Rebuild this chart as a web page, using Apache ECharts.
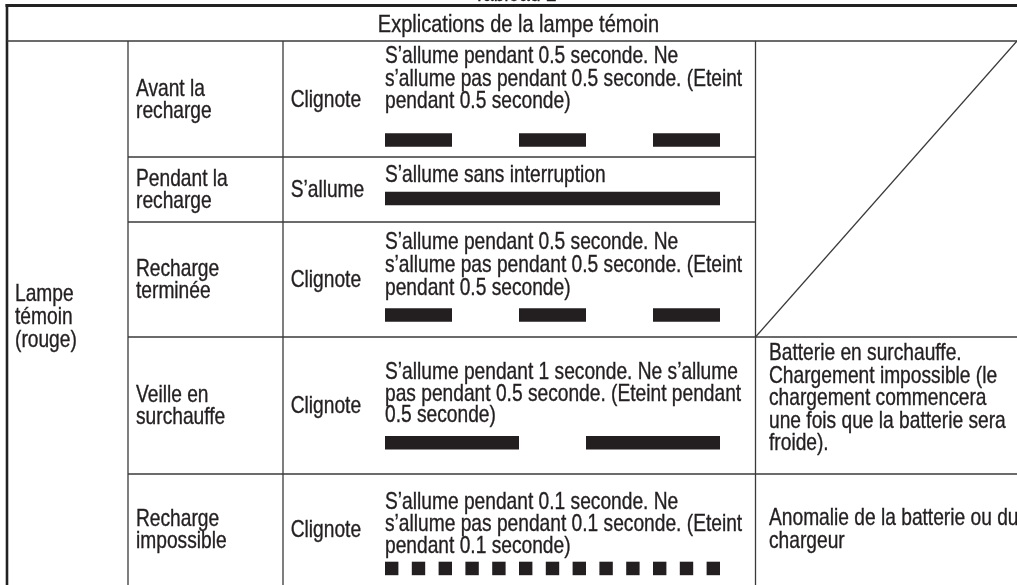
<!DOCTYPE html>
<html><head><meta charset="utf-8">
<script src="https://cdn.jsdelivr.net/npm/echarts@6/dist/echarts.min.js"></script>
<style>html,body{margin:0;padding:0;background:#fff}#chart{width:1017px;height:585px}</style>
</head><body><div id="chart"></div>
<script>
// ---------- DATA ----------
const tableTitle = 'Tableau 2';
const headerText = 'Explications de la lampe témoin';
const lampLabel = ['Lampe', 'témoin', '(rouge)'];
const stateLabels = [['Avant la', 'recharge'], ['Pendant la', 'recharge'], ['Recharge', 'terminée'], ['Veille en', 'surchauffe'], ['Recharge', 'impossible']];
const modeLabels = ['Clignote', 'S’allume', 'Clignote', 'Clignote', 'Clignote'];
const descriptions = [
  ['S’allume pendant 0.5 seconde. Ne', 's’allume pas pendant 0.5 seconde. (Eteint', 'pendant 0.5 seconde)'],
  ['S’allume sans interruption'],
  ['S’allume pendant 0.5 seconde. Ne', 's’allume pas pendant 0.5 seconde. (Eteint', 'pendant 0.5 seconde)'],
  ['S’allume pendant 1 seconde. Ne s’allume', 'pas pendant 0.5 seconde. (Eteint pendant', '0.5 seconde)'],
  ['S’allume pendant 0.1 seconde. Ne', 's’allume pas pendant 0.1 seconde. (Eteint', 'pendant 0.1 seconde)']
];
const remarks = [null, null, null,
  ['Batterie en surchauffe.', 'Chargement impossible (le', 'chargement commencera', 'une fois que la batterie sera', 'froide).'],
  ['Anomalie de la batterie ou du', 'chargeur']];
// lamp ON intervals, seconds [start, end]
const timeMin = 0, timeMax = 2.5;
const onAvantRecharge = [[0, 0.5], [1, 1.5], [2, 2.5]];
const onPendantRecharge = [[0, 2.5]];
const onRechargeTerminee = [[0, 0.5], [1, 1.5], [2, 2.5]];
const onVeilleSurchauffe = [[0, 1], [1.5, 2.5]];
const onRechargeImpossible = [[0, 0.1], [0.2, 0.3], [0.4, 0.5], [0.6, 0.7], [0.8, 0.9], [1.0, 1.1], [1.2, 1.3], [1.4, 1.5], [1.6, 1.7], [1.8, 1.9], [2.0, 2.1], [2.2, 2.3], [2.4, 2.5]];
const lampTimelines = [onAvantRecharge, onPendantRecharge, onRechargeTerminee, onVeilleSurchauffe, onRechargeImpossible];

// ---------- LAYOUT ----------
const W = 1017, H = 585;
const FONT = '"Liberation Sans", Arial, Helvetica, sans-serif';
const FS = 23.4;
const NARROW = 0.82;
const TXT = '#231f20', LINE = '#3a3a3a';
const colX = [7, 128, 283, 755.5, 1017];
const rowY = [41, 157, 222, 337, 474, 585];
const barLeft = 385, barWidth = 335, barH = 13.5;
const barTops = [133.3, 191.7, 308.3, 436, 561.7];
const descFirst = [57, 176, 243, 373, 503];
const descLH = [22.5, 22, 23, 21.5, 22];
const remarkFirst = [0, 0, 0, 354, 519];

const g = [];
function line(x1, y1, x2, y2, w, c) {
  g.push({ type: 'line', silent: true, shape: { x1, y1, x2, y2 }, style: { stroke: c || LINE, lineWidth: w || 1.3 } });
}
function text(lines, x, firstCenter, lh, align, fs) {
  g.push({ type: 'text', silent: true, x: x, y: firstCenter - lh / 2, scaleX: NARROW, scaleY: 1,
    style: { text: lines.join('\n'), fontFamily: FONT, fontSize: fs || FS, fill: TXT, lineHeight: lh,
      stroke: TXT, lineWidth: 0.35,
      align: align || 'left', verticalAlign: 'top' } });
}
// borders
line(5.5, 5.5, W, 5.5, 3, '#222');
line(7, 4, 7, H, 2.6, '#222');
line(7, rowY[0], W, rowY[0], 1.4);
line(colX[1], rowY[0], colX[1], H);
line(colX[2], rowY[0], colX[2], H);
line(colX[3], rowY[0], colX[3], H);
line(colX[1], rowY[1], colX[3], rowY[1]);
line(colX[1], rowY[2], colX[3], rowY[2]);
line(colX[1], rowY[3], W, rowY[3]);
line(colX[1], rowY[4], W, rowY[4]);
line(colX[3], rowY[3], W, rowY[0], 1.2);
// texts
text([tableTitle], 515, -5, 24, 'center');
text([headerText], 518.5, 25.5, 26, 'center', 24.4);
text(lampLabel, 15, 295, 23);
for (let i = 0; i < 5; i++) {
  const c = (rowY[i] + rowY[i + 1]) / 2 + 1.5;
  text(stateLabels[i], 136, c - 11, 22);
  text([modeLabels[i]], 290.7, c, 22);
  text(descriptions[i], barLeft, descFirst[i], descLH[i]);
  if (remarks[i]) text(remarks[i], 769, remarkFirst[i], 22.4);
}

const grids = [], xAxes = [], yAxes = [], series = [];
lampTimelines.forEach((tl, i) => {
  grids.push({ left: barLeft, top: barTops[i], width: barWidth, height: barH, containLabel: false });
  xAxes.push({ type: 'value', gridIndex: i, min: timeMin, max: timeMax, show: false });
  yAxes.push({ type: 'value', gridIndex: i, min: 0, max: 1, show: false });
  series.push({
    type: 'custom', xAxisIndex: i, yAxisIndex: i, silent: true,
    encode: { x: [0, 1] },
    data: tl,
    renderItem: function (params, api) {
      const s = api.coord([api.value(0), 0]);
      const e = api.coord([api.value(1), 1]);
      return { type: 'rect', shape: { x: s[0], y: e[1], width: e[0] - s[0], height: s[1] - e[1] }, style: { fill: TXT } };
    }
  });
});

const chart = echarts.init(document.getElementById('chart'), null, { renderer: 'canvas' });
chart.setOption({
  animation: false,
  backgroundColor: '#fff',
  grid: grids, xAxis: xAxes, yAxis: yAxes, series: series,
  graphic: { elements: g }
});
</script></body></html>
